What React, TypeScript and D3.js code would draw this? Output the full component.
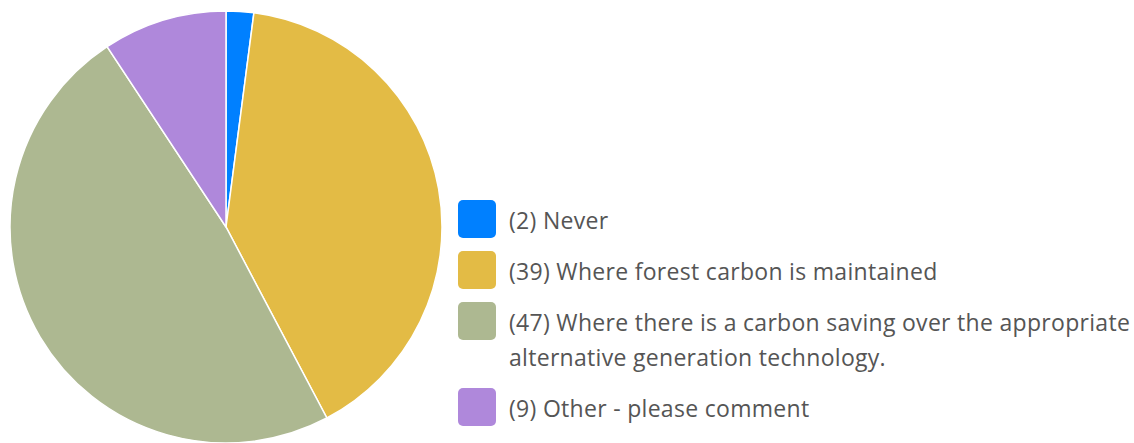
import React, { useEffect, useRef } from "react";
import * as d3 from "d3";

const categories = [
  "Never",
  "Where forest carbon is maintained",
  "Where there is a carbon saving over the appropriate alternative generation technology.",
  "Other - please comment",
];
const counts = [2, 39, 47, 9];
const colors = ["#0080ff", "#e3bb45", "#adb891", "#af88db"];

const W = 1134;
const H = 443;

export default function App() {
  const ref = useRef<SVGSVGElement>(null);

  useEffect(() => {
    const svg = d3.select(ref.current);
    svg.selectAll("*").remove();

    const cx = 226, cy = 227, r = 216;
    const pie = d3.pie<number>().sort(null).value((d) => d);
    const arc = d3.arc<d3.PieArcDatum<number>>().innerRadius(0).outerRadius(r);
    const g = svg.append("g").attr("transform", `translate(${cx},${cy})`);
    g.selectAll("path")
      .data(pie(counts))
      .join("path")
      .attr("d", arc)
      .attr("fill", (_, i) => colors[i])
      .attr("stroke", "#fff")
      .attr("stroke-width", 1.5);

    // legend
    const lx = 458, textX = 509, maxW = 632;
    const fontSize = 23, lineH = 35;
    const leg = svg.append("g")
      .attr("font-family", "'Open Sans', sans-serif")
      .attr("font-size", fontSize)
      .attr("letter-spacing", 0.3)
      .attr("fill", "#555");
    let y = 200;
    categories.forEach((c, i) => {
      leg.append("rect")
        .attr("x", lx).attr("y", y).attr("width", 38).attr("height", 38)
        .attr("rx", 5).attr("fill", colors[i]);
      const text = leg.append("text").attr("x", textX).attr("y", y + 29);
      const words = `(${counts[i]}) ${c}`.split(" ");
      let line: string[] = [];
      let tspan = text.append("tspan").attr("x", textX).attr("dy", 0);
      let nLines = 1;
      for (const w of words) {
        line.push(w);
        tspan.text(line.join(" "));
        if ((tspan.node() as SVGTSpanElement).getComputedTextLength() > maxW && line.length > 1) {
          line.pop();
          tspan.text(line.join(" "));
          line = [w];
          tspan = text.append("tspan").attr("x", textX).attr("dy", lineH).text(w);
          nLines++;
        }
      }
      y += 51 + (nLines - 1) * lineH;
    });
  }, []);

  return <svg ref={ref} width={W} height={H} style={{ display: "block", position: "absolute", left: 0, top: 0 }} />;
}
